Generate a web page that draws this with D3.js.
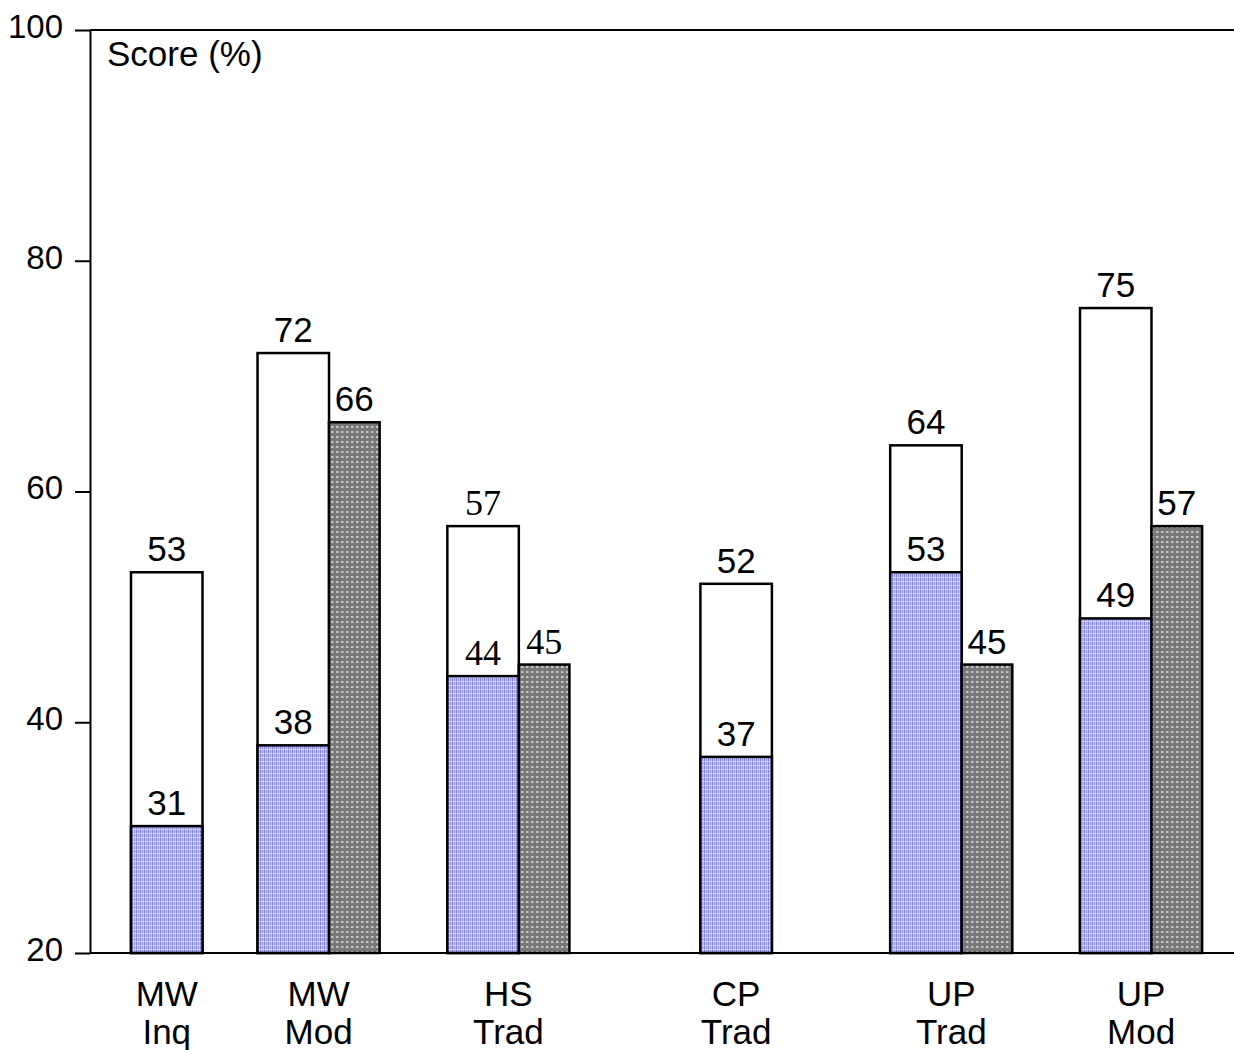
<!DOCTYPE html>
<html>
<head>
<meta charset="utf-8">
<script src="https://cdn.jsdelivr.net/npm/d3@7"></script>
<style>
  body { margin: 0; background: #fff; }
  svg { display: block; }
</style>
</head>
<body>
<div id="app"></div>
<script>
// data
const categories = ["MW Inq", "MW Mod", "HS Trad", "CP Trad", "UP Trad", "UP Mod"];
const preScores = [31, 38, 44, 37, 53, 49];          // blue, dotted
const postScores = [53, 72, 57, 52, 64, 75.9];       // white outline bars
const postLabels = ["53", "72", "57", "52", "64", "75"];
const laterScores = [null, 66, 45, null, 45, 57];    // dark grey, dotted
const yTicks = [20, 40, 60, 80, 100];

const width = 1234, height = 1050;

const svg = d3.select("#app")
  .append("svg")
  .attr("width", width)
  .attr("height", height);

// layout: slot index of each group along the axis (groups are unevenly spaced)
const groupSlot = [0, 2, 5, 9, 12, 15];
const whiteW = 1.13, greyW = 0.8;   // in slot units

const x = d3.scaleLinear().domain([0, 15]).range([131, 1080]);
const y = d3.scaleLinear().domain([20, 100]).range([953, 30]);

const defs = svg.append("defs");

const blue = defs.append("pattern")
  .attr("id", "bluedots")
  .attr("patternUnits", "userSpaceOnUse")
  .attr("width", 4).attr("height", 4);
blue.append("rect").attr("width", 4).attr("height", 4).attr("fill", "#c2c2f6");
blue.append("rect").attr("x", 0).attr("width", 1).attr("height", 4).attr("fill", "#7c7ce2");
blue.append("rect").attr("x", 2).attr("width", 1).attr("height", 4).attr("fill", "#9a9aec");
blue.append("rect").attr("y", 1).attr("width", 4).attr("height", 1).attr("fill", "#e2e2ff").attr("opacity", 0.7);

const grey = defs.append("pattern")
  .attr("id", "greydots")
  .attr("patternUnits", "userSpaceOnUse")
  .attr("width", 5).attr("height", 5);
grey.append("rect").attr("width", 5).attr("height", 5).attr("fill", "#787878");
grey.append("rect").attr("x", 1).attr("y", 1).attr("width", 2).attr("height", 2).attr("fill", "#c4c4c4");
grey.append("rect").attr("x", 3).attr("y", 1).attr("width", 1).attr("height", 2).attr("fill", "#9c9c9c");

const rows = categories.map((c, i) => ({
  cat: c,
  slot: groupSlot[i],
  pre: preScores[i],
  post: postScores[i],
  postLabel: postLabels[i],
  later: laterScores[i]
}));

const sans = "Arial, 'Liberation Sans', sans-serif";
const serif = "'Times New Roman', 'Liberation Serif', serif";
const fontFor = d => d.cat === "HS Trad" ? serif : sans;
const sizeFor = d => d.cat === "HS Trad" ? "36px" : "35px";

// frame lines
svg.append("line")
  .attr("x1", 90).attr("x2", width)
  .attr("y1", y(100)).attr("y2", y(100))
  .attr("stroke", "#000").attr("stroke-width", 2);
svg.append("line")
  .attr("x1", 90).attr("x2", width)
  .attr("y1", y(20)).attr("y2", y(20))
  .attr("stroke", "#000").attr("stroke-width", 2);

const yAxis = svg.append("g")
  .attr("transform", "translate(90,0)")
  .call(d3.axisLeft(y).tickValues(yTicks).tickSize(15).tickPadding(12).tickSizeOuter(0));
yAxis.select(".domain").attr("stroke-width", 2);
yAxis.selectAll(".tick line").attr("stroke-width", 2);
yAxis.selectAll(".tick text")
  .attr("dy", "0.22em")
  .style("font-family", sans)
  .style("font-size", "33px")
  .attr("fill", "#000");

svg.append("text")
  .attr("x", 107).attr("y", 66)
  .style("font-family", sans)
  .style("font-size", "35px")
  .text("Score (%)");

const g = svg.append("g");

// white (post) bars
g.selectAll("rect.post")
  .data(rows)
  .join("rect")
  .attr("class", "post")
  .attr("x", d => x(d.slot))
  .attr("width", d => x(d.slot + whiteW) - x(d.slot))
  .attr("y", d => y(d.post))
  .attr("height", d => y(20) - y(d.post))
  .attr("fill", "#fff")
  .attr("stroke", "#000")
  .attr("stroke-width", 2.5);

// blue (pre) bars on top
g.selectAll("rect.pre")
  .data(rows)
  .join("rect")
  .attr("class", "pre")
  .attr("x", d => x(d.slot))
  .attr("width", d => x(d.slot + whiteW) - x(d.slot))
  .attr("y", d => y(d.pre))
  .attr("height", d => y(20) - y(d.pre))
  .attr("fill", "url(#bluedots)")
  .attr("stroke", "#000")
  .attr("stroke-width", 2.5);

// grey bars
const withLater = rows.filter(d => d.later != null);
g.selectAll("rect.later")
  .data(withLater)
  .join("rect")
  .attr("class", "later")
  .attr("x", d => x(d.slot + whiteW))
  .attr("width", d => x(d.slot + whiteW + greyW) - x(d.slot + whiteW))
  .attr("y", d => y(d.later))
  .attr("height", d => y(20) - y(d.later))
  .attr("fill", "url(#greydots)")
  .attr("stroke", "#000")
  .attr("stroke-width", 2.5);

// value labels
const gap = 11;
g.selectAll("text.postLbl")
  .data(rows)
  .join("text")
  .attr("class", "postLbl")
  .attr("x", d => x(d.slot + whiteW / 2))
  .attr("y", d => y(d.post) - gap)
  .attr("text-anchor", "middle")
  .style("font-family", fontFor)
  .style("font-size", sizeFor)
  .text(d => d.postLabel);

g.selectAll("text.preLbl")
  .data(rows)
  .join("text")
  .attr("class", "preLbl")
  .attr("x", d => x(d.slot + whiteW / 2))
  .attr("y", d => y(d.pre) - gap)
  .attr("text-anchor", "middle")
  .style("font-family", fontFor)
  .style("font-size", sizeFor)
  .text(d => d.pre);

g.selectAll("text.laterLbl")
  .data(withLater)
  .join("text")
  .attr("class", "laterLbl")
  .attr("x", d => x(d.slot + whiteW + greyW / 2))
  .attr("y", d => y(d.later) - gap)
  .attr("text-anchor", "middle")
  .style("font-family", fontFor)
  .style("font-size", sizeFor)
  .text(d => d.later);

// category labels, two lines
const catLbl = g.selectAll("text.cat")
  .data(rows)
  .join("text")
  .attr("class", "cat")
  .attr("text-anchor", "middle")
  .style("font-family", sans)
  .style("font-size", "35px")
  .attr("transform", d => {
    const span = d.later != null ? whiteW + greyW : whiteW;
    return `translate(${x(d.slot + span / 2)},0)`;
  });
catLbl.selectAll("tspan")
  .data(d => d.cat.split(" "))
  .join("tspan")
  .attr("x", 0)
  .attr("y", (s, i) => i === 0 ? 1006 : 1044)
  .text(s => s);
</script>
</body>
</html>
